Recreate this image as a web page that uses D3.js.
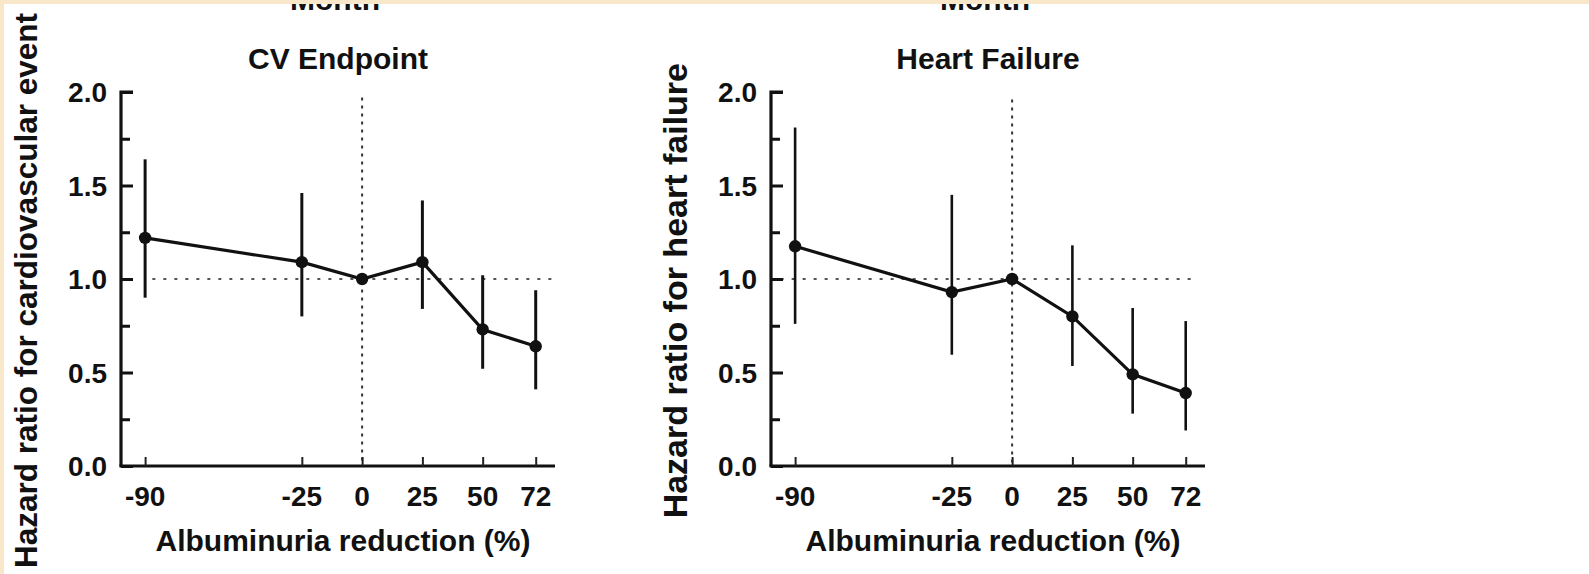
<!DOCTYPE html>
<html>
<head>
<meta charset="utf-8">
<script src="https://cdn.jsdelivr.net/npm/d3@7"></script>
<style>
  html, body { margin: 0; padding: 0; background: #ffffff; }
  svg { display: block; }
  text { font-family: "Liberation Sans", Arial, Helvetica, sans-serif; font-weight: bold; fill: #111; }
</style>
</head>
<body>
<svg id="chart" width="1589" height="574"></svg>
<script>
// ---------- data ----------
const categories = [-90, -25, 0, 25, 50, 72];
const xTickLabels = ["-90", "-25", "0", "25", "50", "72"];
const yTickValues = [0, 0.5, 1.0, 1.5, 2.0];
const yMinorTicks = [0.25, 0.75, 1.25, 1.75];

const cvHR   = [1.22, 1.09, 1.00, 1.09, 0.73, 0.64];
const cvLow  = [0.90, 0.80, null, 0.84, 0.52, 0.41];
const cvHigh = [1.64, 1.46, null, 1.42, 1.02, 0.94];

const hfHR   = [1.175, 0.93, 1.00, 0.80, 0.49, 0.39];
const hfLow  = [0.76, 0.595, null, 0.535, 0.28, 0.19];
const hfHigh = [1.81, 1.45, null, 1.18, 0.845, 0.775];

const panelTitles = ["CV Endpoint", "Heart Failure"];
const yTitles = ["Hazard ratio for cardiovascular event", "Hazard ratio for heart failure"];
const xTitle = "Albuminuria reduction (%)";
const topText = "Month";
const refLineX = [[-87, 80], [-96, 77]];
const refLineYTop = [1.97, 1.96];

// ---------- layout ----------
const svg = d3.select("#chart");
const W = 1589, H = 574;
svg.append("rect").attr("width", W).attr("height", H).attr("fill", "#ffffff");

const panels = [
  { x0: 121, x1: 555, hr: cvHR, lo: cvLow, hi: cvHigh, ciW: 3, yTitleTop: 13, yTitleSize: 31.5 },
  { x0: 771, x1: 1205, hr: hfHR, lo: hfLow, hi: hfHigh, ciW: 2.6, yTitleTop: 63, yTitleSize: 34 }
];
const yTop = 92, yBot = 466;

panels.forEach((p, i) => {
  const x = d3.scaleLinear().domain([-100, 80]).range([p.x0, p.x1]);
  const y = d3.scaleLinear().domain([0, 2]).range([yBot, yTop]);
  const g = svg.append("g");
  const cx = (p.x0 + p.x1) / 2;

  // Top cut-off text
  g.append("text").attr("x", cx - 3).attr("y", 10).attr("text-anchor", "middle")
    .attr("font-size", 30).text(topText);

  // Panel title
  g.append("text").attr("x", cx).attr("y", 69).attr("text-anchor", "middle")
    .attr("font-size", 30).text(panelTitles[i]);

  // Reference lines
  g.append("line")
    .attr("x1", x(refLineX[i][0])).attr("x2", x(refLineX[i][1]))
    .attr("y1", y(1)).attr("y2", y(1))
    .attr("stroke", "#555").attr("stroke-width", 1.8).attr("stroke-dasharray", "3,8");
  g.append("line")
    .attr("x1", x(0)).attr("x2", x(0))
    .attr("y1", y(refLineYTop[i])).attr("y2", y(0))
    .attr("stroke", "#333").attr("stroke-width", 2).attr("stroke-dasharray", "3,5");

  // Y axis (ticks pointing inward)
  const yAxis = d3.axisRight(y).tickValues(yTickValues).tickSize(12).tickFormat("");
  const ya = g.append("g").attr("transform", `translate(${p.x0},0)`).call(yAxis);
  ya.select(".domain").attr("d", `M12,${yTop}H0V${yBot}`).attr("stroke", "#111").attr("stroke-width", 3.2);
  ya.selectAll(".tick line").attr("stroke", "#111").attr("stroke-width", 3);
  const yMinor = d3.axisRight(y).tickValues(yMinorTicks).tickSize(9).tickFormat("");
  const ym = g.append("g").attr("transform", `translate(${p.x0},0)`).call(yMinor);
  ym.select(".domain").remove();
  ym.selectAll(".tick line").attr("stroke", "#111").attr("stroke-width", 3);
  // Y tick labels
  g.selectAll(".ylab").data(yTickValues).enter().append("text")
    .attr("x", p.x0 - 14).attr("y", d => y(d)).attr("dy", "0.36em")
    .attr("text-anchor", "end").attr("font-size", 28)
    .text(d => d3.format(".1f")(d));

  // X axis (ticks pointing inward)
  const xAxis = d3.axisTop(x).tickValues(categories).tickSize(9).tickFormat("");
  const xa = g.append("g").attr("transform", `translate(0,${yBot})`).call(xAxis);
  xa.select(".domain").attr("d", `M${p.x0 - 1.6},0H${p.x1}`).attr("stroke", "#111").attr("stroke-width", 3.2);
  xa.selectAll(".tick line").attr("stroke", "#222").attr("stroke-width", 2);
  g.selectAll(".xlab").data(categories).enter().append("text")
    .attr("x", d => x(d)).attr("y", 506).attr("text-anchor", "middle")
    .attr("font-size", 28).text((d, j) => xTickLabels[j]);

  // X title
  g.append("text").attr("x", cx + 5).attr("y", 551).attr("text-anchor", "middle")
    .attr("font-size", 30).text(xTitle);

  // Y title
  const ytx = p.x0 - 84;
  g.append("text").attr("transform", `translate(${ytx},${p.yTitleTop}) rotate(-90)`)
    .attr("text-anchor", "end").attr("font-size", p.yTitleSize).text(yTitles[i]);

  // Error bars
  const ciData = categories.map((c, j) => ({ c, lo: p.lo[j], hi: p.hi[j] })).filter(d => d.lo !== null);
  g.selectAll(".ci").data(ciData).enter().append("line")
    .attr("x1", d => x(d.c)).attr("x2", d => x(d.c))
    .attr("y1", d => y(d.lo)).attr("y2", d => y(d.hi))
    .attr("stroke", "#111").attr("stroke-width", p.ciW);

  // Line
  const pts = categories.map((c, j) => [c, p.hr[j]]);
  g.append("path").datum(pts)
    .attr("d", d3.line().x(d => x(d[0])).y(d => y(d[1])))
    .attr("fill", "none").attr("stroke", "#111").attr("stroke-width", 3.2);

  // Markers
  g.selectAll(".pt").data(pts).enter().append("circle")
    .attr("cx", d => x(d[0])).attr("cy", d => y(d[1])).attr("r", 6.2).attr("fill", "#111");
});

// Beige border strips (photo edge)
svg.append("rect").attr("x", 0).attr("y", 0).attr("width", W).attr("height", 4).attr("fill", "#f8e7c9");
svg.append("rect").attr("x", 0).attr("y", 0).attr("width", 4).attr("height", H).attr("fill", "#f8e7c9");
</script>
</body>
</html>
